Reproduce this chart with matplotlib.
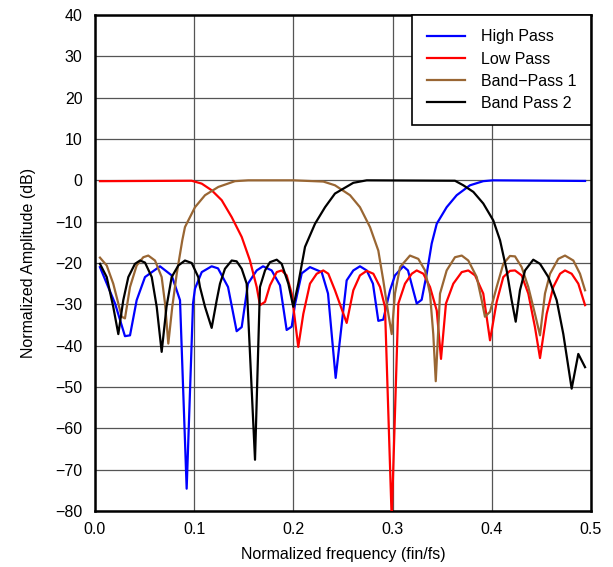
import matplotlib
matplotlib.use('Agg')
import matplotlib.pyplot as plt

plt.rcParams['font.family'] = ['Liberation Sans', 'DejaVu Sans']

# valores (frequencia normalizada, dB)
hp_f = [0.005, 0.0202, 0.0302, 0.0353, 0.042, 0.0504, 0.0655, 0.0773, 0.0857, 0.0924,
        0.0988, 0.1008, 0.1076, 0.1176, 0.124, 0.1341, 0.1428, 0.1479, 0.1542, 0.163,
        0.1694, 0.1781, 0.1865, 0.1932, 0.1983, 0.2016, 0.2084, 0.2167, 0.2285, 0.2349,
        0.2426, 0.2537, 0.2604, 0.2671, 0.2739, 0.2802, 0.2856, 0.2906, 0.2974, 0.3024,
        0.3108, 0.3155, 0.3243, 0.3293, 0.3344, 0.3394, 0.3445, 0.3545, 0.3646, 0.378,
        0.3914, 0.4012, 0.494]
hp_db = [-21.0, -29.8, -37.7, -37.5, -29.0, -23.4, -20.8, -23.0, -29.0, -74.6,
         -29.8, -26.2, -22.2, -20.8, -21.3, -25.8, -36.5, -35.5, -25.0, -21.8,
         -20.8, -21.8, -25.4, -36.2, -35.4, -30.0, -22.5, -21.0, -22.2, -27.4,
         -47.8, -24.2, -21.8, -20.8, -21.8, -25.0, -34.0, -33.7, -26.6, -23.0,
         -20.8, -21.8, -29.8, -28.9, -22.6, -15.3, -10.5, -6.5, -3.6, -1.2,
         -0.2, 0.0, -0.15]

lp_f = [0.005, 0.0975, 0.1076, 0.1176, 0.1277, 0.1378, 0.1479, 0.1562, 0.163, 0.1663,
        0.1714, 0.1764, 0.1832, 0.1882, 0.1932, 0.1983, 0.2049, 0.21, 0.2167, 0.2235,
        0.2301, 0.2352, 0.2419, 0.2537, 0.2604, 0.2671, 0.2739, 0.2806, 0.2873, 0.2923,
        0.2991, 0.3058, 0.3125, 0.3193, 0.3243, 0.331, 0.3377, 0.3445, 0.3488, 0.3538,
        0.3612, 0.3697, 0.3763, 0.3831, 0.3914, 0.3982, 0.4049, 0.4116, 0.4183, 0.4234,
        0.4301, 0.4368, 0.4435, 0.4486, 0.4553, 0.462, 0.4688, 0.4738, 0.4805, 0.4872,
        0.494]
lp_db = [-0.2, -0.1, -0.8, -2.4, -4.8, -8.9, -13.7, -19.4, -25.8, -30.2,
         -29.4, -25.4, -22.2, -21.8, -23.0, -27.4, -40.3, -32.3, -25.0, -22.6,
         -21.8, -22.6, -26.6, -34.5, -26.6, -23.0, -21.9, -22.6, -25.8, -30.6,
         -82.0, -29.8, -25.0, -22.6, -21.8, -22.6, -25.8, -31.5, -43.2, -29.8,
         -25.0, -22.2, -21.8, -23.0, -27.4, -38.7, -29.4, -23.4, -21.9, -21.8,
         -23.0, -27.4, -35.5, -43.0, -32.3, -25.8, -22.6, -21.8, -22.6, -25.0,
         -30.2]

bp1_f = [0.005, 0.0118, 0.0184, 0.0235, 0.0269, 0.0302, 0.0353, 0.042, 0.0487, 0.0537,
         0.0605, 0.0672, 0.0706, 0.0739, 0.0779, 0.0824, 0.088, 0.0907, 0.1008, 0.1109,
         0.1243, 0.1411, 0.1545, 0.2, 0.2302, 0.2419, 0.2571, 0.2671, 0.2772, 0.2856,
         0.2906, 0.2957, 0.2991, 0.3024, 0.3075, 0.3175, 0.3259, 0.3327, 0.3377, 0.341,
         0.3435, 0.3478, 0.3545, 0.3629, 0.3697, 0.3763, 0.3848, 0.3898, 0.3931, 0.3982,
         0.4049, 0.4116, 0.4183, 0.4234, 0.4301, 0.4368, 0.4435, 0.4486, 0.4536, 0.4587,
         0.467, 0.4738, 0.4822, 0.4889, 0.494]
bp1_db = [-18.7, -20.6, -25.0, -29.8, -33.0, -33.4, -25.8, -20.6, -18.6, -18.2,
          -19.4, -23.4, -29.8, -39.5, -30.6, -22.6, -14.5, -11.3, -6.5, -3.6,
          -1.6, -0.2, 0.0, 0.0, -0.3, -1.2, -3.6, -6.5, -11.3, -17.0,
          -24.2, -32.3, -37.2, -27.4, -21.0, -18.2, -19.0, -21.8, -27.4, -37.2,
          -48.6, -27.4, -21.8, -18.6, -18.2, -19.4, -23.4, -29.0, -33.0, -31.8,
          -25.8, -20.2, -18.3, -18.4, -21.0, -25.8, -32.3, -37.5, -27.4, -22.6,
          -19.0, -18.2, -19.4, -22.6, -26.6]

bp2_f = [0.005, 0.0118, 0.0184, 0.0235, 0.0285, 0.0336, 0.0403, 0.0454, 0.0504, 0.0572,
         0.0622, 0.0672, 0.0721, 0.0773, 0.084, 0.0907, 0.0975, 0.1041, 0.1058, 0.1109,
         0.1176, 0.1227, 0.126, 0.131, 0.1378, 0.1428, 0.1479, 0.1529, 0.1613, 0.1663,
         0.1714, 0.1764, 0.1832, 0.1882, 0.1949, 0.1999, 0.2049, 0.2117, 0.2218, 0.2319,
         0.2419, 0.2604, 0.2739, 0.3629, 0.3713, 0.3814, 0.3914, 0.4015, 0.4083, 0.415,
         0.42, 0.4241, 0.4284, 0.4335, 0.4418, 0.4486, 0.457, 0.4654, 0.4721, 0.4805,
         0.4872, 0.494]
bp2_db = [-20.2, -23.4, -30.6, -37.2, -29.0, -23.4, -20.2, -19.4, -19.9, -23.4,
          -30.6, -41.5, -30.6, -23.4, -20.6, -19.4, -20.0, -23.4, -25.8, -30.6,
          -35.7, -29.0, -25.0, -21.4, -19.4, -19.6, -21.4, -25.0, -67.6, -25.8,
          -21.8, -19.8, -19.2, -20.2, -25.0, -30.6, -25.0, -16.1, -10.5, -6.5,
          -3.2, -0.6, 0.0, -0.1, -1.2, -2.8, -5.6, -9.7, -14.5, -21.8,
          -29.0, -34.2, -26.6, -21.8, -19.2, -20.2, -23.4, -29.0, -37.2, -50.4,
          -42.0, -45.2]

x_ticks = [0, 0.1, 0.2, 0.3, 0.4, 0.5]
x_labels = ['0.0', '0.1', '0.2', '0.3', '0.4', '0.5']

series = [
    (hp_f, hp_db, '#0000FF', 'High Pass'),
    (lp_f, lp_db, '#FF0000', 'Low Pass'),
    (bp1_f, bp1_db, '#996633', 'Band\u2212Pass 1'),
    (bp2_f, bp2_db, '#000000', 'Band Pass 2'),
]

fig = plt.figure(figsize=(6.13, 5.67), dpi=100)
ax = fig.add_axes([95 / 613, 1 - 511 / 567, 496 / 613, 496 / 567])

for f, db, cor, nome in series:
    ax.plot(f, db, color=cor, linewidth=1.6, label=nome, zorder=3)

ax.set_xlim(0, 0.5)
ax.set_ylim(-80, 40)
ax.set_xticks(x_ticks)
ax.set_xticklabels(x_labels)
ax.set_yticks(range(-80, 41, 10))
ax.tick_params(labelsize=11.5, length=0)
ax.tick_params(axis='x', pad=8)
ax.tick_params(axis='y', pad=9)
ax.grid(True, color='#555555', linewidth=0.9)
for sp in ax.spines.values():
    sp.set_linewidth(1.8)
    sp.set_color('black')

ax.set_xlabel('Normalized frequency (fin/fs)', fontsize=11.5, labelpad=7)
ax.set_ylabel('Normalized Amplitude (dB)', fontsize=11.5, labelpad=14)

leg = ax.legend(loc='upper right', fontsize=11.5, fancybox=False, edgecolor='black',
                borderaxespad=0, framealpha=1, handlelength=2.4, handletextpad=1.0,
                labelspacing=0.45, borderpad=0.9)
leg.get_frame().set_linewidth(1.2)

plt.savefig('out.png', dpi=100)
